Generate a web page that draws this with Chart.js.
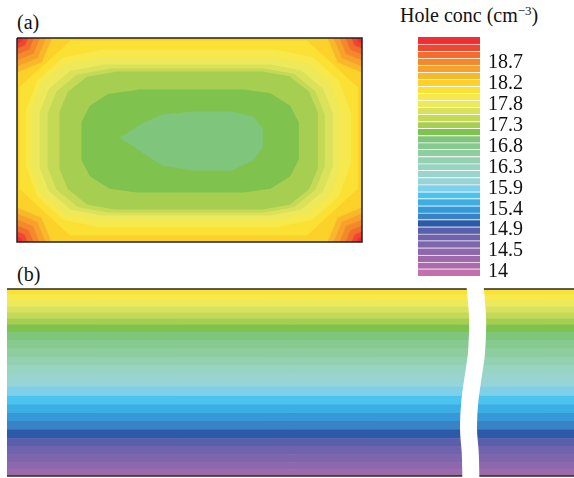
<!DOCTYPE html>
<html lang="en">
<head>
<meta charset="UTF-8">
<title>Hole concentration</title>
<script src="https://cdn.jsdelivr.net/npm/chart.js"></script>
<style>
  body { margin: 0; background: #fff; overflow: hidden; }
  #page { position: relative; width: 574px; height: 478px; font-family: "Liberation Serif", "Times New Roman", serif; color: #111; }
  .lbl { position: absolute; font-size: 20px; line-height: 20px; white-space: nowrap; }
  .lbl sup { font-size: 13px; line-height: 0; vertical-align: 7px; }
  .box { position: absolute; }
</style>
</head>
<body>
<div id="page">
  <div class="lbl" style="left:17px; top:12px;">(a)</div>
  <div class="lbl" style="left:17px; top:264px;">(b)</div>
  <div class="lbl" style="left:400px; top:5px;">Hole conc (cm<sup>−3</sup>)</div>
  <div class="box" style="left:15px; top:36px; width:349px; height:208px;"><canvas id="mapChart"></canvas></div>
  <div class="box" style="left:418px; top:27px; width:156px; height:259px;"><canvas id="barChart"></canvas></div>
  <div class="box" style="left:7px; top:284px; width:567px; height:197px;"><canvas id="stripChart"></canvas></div>
</div>

<script>
// colour bar: band edges (log10 hole conc), bottom to top
const barEdges = [13.91, 14.07, 14.22, 14.38, 14.54, 14.70, 14.85, 15.01, 15.17, 15.32, 15.48, 15.64,
  15.79, 15.95, 16.11, 16.27, 16.42, 16.58, 16.74, 16.89, 17.05, 17.21, 17.36, 17.52, 17.68, 17.84,
  17.99, 18.15, 18.31, 18.46, 18.62, 18.78, 18.93, 19.09, 19.25];
const barTickPos = [14, 14.467, 14.933, 15.4, 15.867, 16.333, 16.8, 17.267, 17.733, 18.2, 18.667];
const barTickLabels = ['14', '14.5', '14.9', '15.4', '15.9', '16.3', '16.8', '17.3', '17.8', '18.2', '18.7'];

// (a) contour levels, outer to inner, and their outlines (grid units, 345 x 204, y down)
const mapLevels = [19.17, 19.01, 18.86, 18.70, 18.54, 18.39, 18.23,
  18.07, 17.92, 17.76, 17.60, 17.44, 17.29, 17.13, 16.97];
const mapOutlines = [
  [[0,0],[345,0],[345,204],[0,204]],
  [[6,0],[339,0],[340.8,4.2],[345,6],[345,198],[340.8,199.8],[339,204],[6,204],[4.2,199.8],[0,198],[0,6],[4.2,4.2]],
  [[11,0],[334,0],[337.2,7.8],[345,11],[345,193],[337.2,196.2],[334,204],[11,204],[7.8,196.2],[0,193],[0,11],[7.8,7.8]],
  [[17,0],[328,0],[333,12],[345,17],[345,187],[333,192],[328,204],[17,204],[12,192],[0,187],[0,17],[12,12]],
  [[23,0],[322,0],[328.7,16.3],[345,23],[345,181],[328.7,187.7],[322,204],[23,204],[16.3,187.7],[0,181],[0,23],[16.3,16.3]],
  [[29,0],[316,0],[324.5,20.5],[345,29],[345,175],[324.5,183.5],[316,204],[29,204],[20.5,183.5],[0,175],[0,29],[20.5,20.5]],
  [[35,0],[310,0],[320.3,24.7],[345,35],[345,169],[320.3,179.3],[310,204],[35,204],[24.7,179.3],[0,169],[0,35],[24.7,24.7]],
  [[53,3],[290,3],[315,26],[340,49],[340,151],[315,174],[290,197],[53,197],[28,174],[3,151],[3,49],[28,26]],
  [[84,12],[258,12],[295.5,19.4],[321.8,43],[333,74],[333,127],[321.8,158],[295.5,181.6],[258,189],
   [84,189],[46.5,181.6],[20.3,158],[9,127],[9,74],[20.3,43],[46.5,19.4]],
  [[80,20],[258,20],[290.5,26.2],[313.2,46],[323,72],[323,130],[313.2,156],[290.5,175.8],[258,182],
   [80,182],[47.5,175.8],[24.8,156],[15,130],[15,72],[24.8,46],[47.5,26.2]],
  [[85,27],[253,27],[284,32.8],[305.7,51],[315,75],[315,129],[305.7,153],[284,171.2],[253,177],
   [85,177],[54,171.2],[32.3,153],[23,129],[23,75],[32.3,51],[54,32.8]],
  [[91,31],[247,31],[277,36.4],[298,53.5],[307,76],[307,129],[298,151.5],[277,168.6],[247,174],
   [91,174],[61,168.6],[40,151.5],[31,129],[31,76],[40,53.5],[61,36.4]],
  [[98,34],[245,34],[272.5,38.8],[291.7,54],[300,74],[300,131],[291.7,151],[272.5,166.2],[245,171],
   [98,171],[70.5,166.2],[51.3,151],[43,131],[43,74],[51.3,54],[70.5,38.8]],
  [[120,52],[226,52],[253.5,55.8],[272.8,68],[281,84],[281,122],[272.8,138],[253.5,150.2],[226,154],
   [120,154],[92.5,150.2],[73.3,138],[65,122],[65,84],[73.3,68],[92.5,55.8]],
  [[103,100],[125,86],[145,77],[175,74],[215,74],[236,79],[245,90],[245,110],[236,122],[215,132],[175,132],[145,127],[125,114]]
];

// (b) layer edges (depth from top, grid units) and hole conc of each layer
const stripEdges = [0, 4.7, 10.7, 17.2, 23.2, 29.2, 35.7, 43.2, 51.2, 59.7, 68.2, 76.2, 84.7, 90.7,
  97.4, 107, 115.7, 124, 132.4, 140.7, 149.5, 157.4, 165.7, 173.7, 180.7, 187.4];
const stripLevels = [18.07, 17.92, 17.76, 17.60, 17.44, 17.29, 17.13, 16.97, 16.82, 16.66, 16.50, 16.35,
  16.19, 16.03, 15.87, 15.72, 15.56, 15.40, 15.25, 15.09, 14.93, 14.78, 14.62, 14.46, 14.30];
// axis break drawn across panel (b)
const breakPath = [[82.5,-5],[82.6,0],[83.0,31],[82.8,64],[82.4,81],[81.6,114],[81.4,141],[81.7,164],[81.8,187],[81.8,193]];

// colours of the bar, bottom to top
const palette = ['#c46faf', '#ad6bac', '#9d69ab', '#8e68ac', '#7d66ad', '#6e63ac', '#5a5fab', '#2d5aa8',
  '#3a82c6', '#3599d7', '#3baee3', '#4ac4ef', '#7ecfe7', '#96d4d6', '#99d5cc', '#98d4c2', '#93d1b0',
  '#8dcd9f', '#87ca90', '#80c57c', '#7fc24e', '#a6ce51', '#c4d955', '#dae25b', '#ede95b', '#f7e84b',
  '#fbe134', '#fbd12a', '#f9b72a', '#f7a12b', '#f4892c', '#f16c2d', '#ef4631', '#ee2e32'];

function colorOf(v) {
  for (let i = 0; i < palette.length; i++) {
    if (v >= barEdges[i] && v < barEdges[i + 1]) return palette[i];
  }
  return palette[palette.length - 1];
}

const toXY = pts => pts.map(p => ({x: p[0], y: p[1]}));
const serif = "'Liberation Serif', 'Times New Roman', serif";
Chart.defaults.animation = false;
Chart.defaults.events = [];
Chart.defaults.plugins.legend.display = false;
Chart.defaults.plugins.tooltip.enabled = false;

// ---- (a) contour map ----
let mapSets = mapOutlines.map((pts, i) => ({
    data: toXY(pts),
    showLine: true,
    fill: 'shape',
    backgroundColor: colorOf(mapLevels[i]),
    borderColor: colorOf(mapLevels[i]),
    borderWidth: 1,
    pointRadius: 0,
    order: mapOutlines.length - i + 1
}));
mapSets.push({
    data: toXY(mapOutlines[0].concat([mapOutlines[0][0]])),
    showLine: true, fill: false, borderColor: '#222', borderWidth: 1.5,
    pointRadius: 0, clip: false, order: 0
});

new Chart(document.getElementById('mapChart'), {
    type: 'scatter',
    data: { datasets: mapSets },
    options: {
        responsive: true, maintainAspectRatio: false,
        layout: { padding: 2 },
        scales: {
            x: { type: 'linear', min: 0, max: 345, display: false },
            y: { type: 'linear', min: 0, max: 204, reverse: true, display: false }
        }
    }
});

// ---- colour bar ----
new Chart(document.getElementById('barChart'), {
    type: 'bar',
    data: {
        labels: [''],
        datasets: palette.map((c, i) => ({
            data: [[barEdges[i], barEdges[i + 1]]],
            backgroundColor: c,
            borderColor: 'rgba(255,255,255,0.6)',
            borderWidth: { top: i === palette.length - 1 ? 0 : 1, bottom: 0, left: 0, right: 0 },
            borderSkipped: false,
            grouped: false,
            barPercentage: 1,
            categoryPercentage: 1
        }))
    },
    options: {
        responsive: true, maintainAspectRatio: false,
        layout: { padding: { top: 10, bottom: 10, left: 0, right: 0 } },
        scales: {
            x: { display: false },
            y: {
                position: 'right',
                min: barEdges[0], max: barEdges[barEdges.length - 1],
                afterBuildTicks: axis => { axis.ticks = barTickPos.map(v => ({ value: v })); },
                afterFit: axis => { axis.width = 94; axis.paddingTop = 0; axis.paddingBottom = 0; },
                grid: { display: false, drawTicks: false },
                border: { display: false },
                ticks: {
                    autoSkip: false, padding: 8, color: '#111',
                    font: { family: serif, size: 20 },
                    callback: (v, i) => barTickLabels[i]
                }
            }
        }
    }
});

// ---- (b) layered strip ----
let stripSets = stripLevels.map((v, i) => ({
    data: [{x: 0, y: stripEdges[i]}, {x: 100, y: stripEdges[i]}],
    showLine: true,
    fill: { value: stripEdges[i + 1] },
    backgroundColor: colorOf(v),
    borderColor: colorOf(v),
    borderWidth: 1,
    pointRadius: 0,
    order: 10
}));
[stripEdges[0], stripEdges[stripEdges.length - 1]].forEach(d => {
    stripSets.push({
        data: [{x: 0, y: d}, {x: 100, y: d}],
        showLine: true, fill: false, borderColor: '#2a2a2a', borderWidth: 1.3,
        pointRadius: 0, clip: false, order: 2
    });
});
stripSets.push({
    data: toXY(breakPath),
    showLine: true, fill: false, borderColor: '#ffffff', borderWidth: 17,
    tension: 0.4, pointRadius: 0, clip: false, order: 0
});

new Chart(document.getElementById('stripChart'), {
    type: 'scatter',
    data: { datasets: stripSets },
    options: {
        responsive: true, maintainAspectRatio: false,
        layout: { padding: { top: 5, bottom: 5, left: 0, right: 0 } },
        scales: {
            x: { type: 'linear', min: 0, max: 100, display: false },
            y: { type: 'linear', min: 0, max: 187.4, reverse: true, display: false }
        }
    }
});
</script>
</body>
</html>
